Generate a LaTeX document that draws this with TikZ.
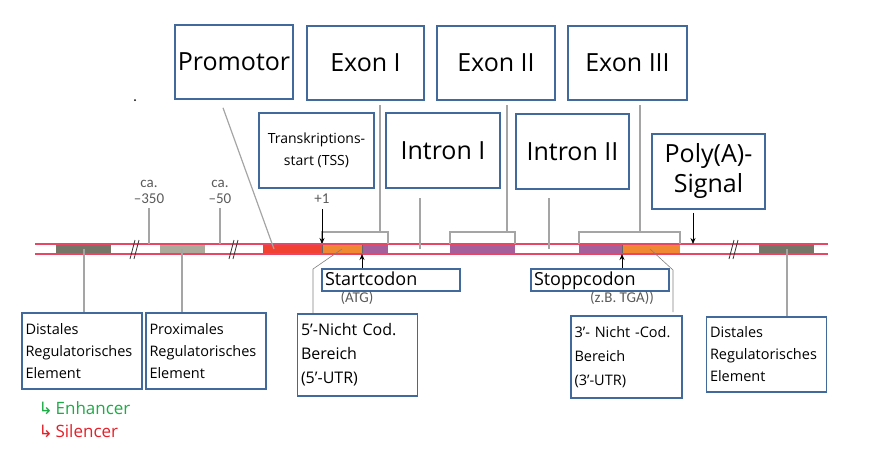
\documentclass[tikz,border=0pt]{standalone}
\usepackage{fontspec}
\setmainfont{Open Sans}
\newfontfamily\labelfont{Carlito}
\newfontfamily\symbolfont{DejaVu Sans}
\usetikzlibrary{arrows.meta}

\definecolor{strandred}{RGB}{232,70,100}
\definecolor{promred}{RGB}{240,65,50}
\definecolor{utrorange}{RGB}{240,135,50}
\definecolor{exonpurple}{RGB}{165,95,155}
\definecolor{distgray}{RGB}{118,118,104}
\definecolor{proxgray}{RGB}{172,170,154}
\definecolor{boxblue}{RGB}{65,105,155}
\definecolor{conngray}{RGB}{165,165,165}
\definecolor{labelgray}{RGB}{90,90,90}
\definecolor{enhgreen}{RGB}{30,170,70}
\definecolor{silred}{RGB}{230,30,40}

\tikzset{
  box/.style={draw=boxblue, line width=1.6pt, fill=white, inner sep=3pt},
  bigtext/.style={font=\fontsize{25}{30}\selectfont},
  midtext/.style={font=\fontsize{14}{22}\selectfont},
  lowtext/.style={font=\fontsize{14.5}{22}\selectfont, align=left, text width=113pt, inner sep=3.5pt},
  codontext/.style={font=\fontsize{18}{20}\selectfont, align=left, text width=132pt,
                    text height=12pt, text depth=2pt, inner xsep=3pt, inner ysep=4pt},
  graylabel/.style={font=\labelfont\fontsize{15}{16}\selectfont, text=labelgray, inner sep=1pt},
  strand/.style={draw=strandred, line width=1.2pt},
  conn/.style={draw=conngray, line width=1.2pt},
  utrline/.style={draw=gray, line width=0.6pt},
  arr/.style={-{Stealth[length=6pt,width=5pt]}, line width=0.8pt, black},
  breakmark/.style={draw=black!80, line width=0.8pt}
}

\begin{document}
\begin{tikzpicture}[x=1pt, y=-1pt]
    \useasboundingbox (0,0) rectangle (877,450);

    % draw the strand
    \fill[white] (35,244) rectangle (828,254);
    \fill[distgray] (56,244) rectangle (111,254);
    \fill[proxgray] (160,244) rectangle (205,254);
    \fill[promred] (263,244) rectangle (322,254);
    \fill[utrorange] (322,244) rectangle (362,254);
    \fill[exonpurple] (362,244) rectangle (388,254);
    \fill[exonpurple] (450,244) rectangle (515,254);
    \fill[exonpurple] (579,244) rectangle (622,254);
    \fill[utrorange] (622,244) rectangle (680,254);
    \fill[distgray] (759,244) rectangle (814,254);
    \draw[black!60, line width=0.4pt] (322,244) -- (322,254) (362,244) -- (362,254)
        (622,244) -- (622,254);
    \draw[strand] (35,244) -- (828,244);
    \draw[strand] (35,254) -- (828,254);

    % breaks
    \foreach \bx in {135,234,734} {
        \draw[breakmark] (\bx-5,259) -- (\bx,240);
        \draw[breakmark] (\bx-1,259) -- (\bx+4,240);
    }

    % sites on the strand
    \coordinate (tsssite) at (322,244);
    \coordinate (startsite) at (362,254);
    \coordinate (stopsite) at (622,254);
    \coordinate (polyasite) at (693,244);
    \coordinate (promsite) at (274,249);
    \coordinate (intronIsite) at (420,249);
    \coordinate (intronIIsite) at (549,249);
    \coordinate (distLsite) at (84,249);
    \coordinate (proxsite) at (182,249);
    \coordinate (distRsite) at (787,249);
    \coordinate (utrVsite) at (342,249);
    \coordinate (utrIIIsite) at (650,249);

    % exon brackets
    \draw[conn] (322,244) -- (322,232) -- (388,232) -- (388,244);
    \draw[conn] (450,244) -- (450,232) -- (515,232) -- (515,244);
    \draw[conn] (579,244) -- (579,232) -- (680,232) -- (680,244);
    \coordinate (exonIstem) at (380,232);
    \coordinate (exonIIstem) at (507,232);
    \coordinate (exonIIIstem) at (640,232);

    % upper boxes
    \node[box, bigtext, minimum width=118pt, minimum height=74pt] (promotor) at (234,62) {Promotor};
    \node[box, bigtext, minimum width=117pt, minimum height=74pt] (exonI) at (365.5,63) {Exon I};
    \node[box, bigtext, minimum width=118pt, minimum height=74pt] (exonII) at (496,63) {Exon II};
    \node[box, bigtext, minimum width=119pt, minimum height=74pt] (exonIII) at (627.5,63) {Exon III};
    \node[box, midtext, align=center, minimum width=115pt, minimum height=75pt] (tss) at (316.5,150.5) {Transkriptions-\\start (TSS)};
    \node[box, bigtext, minimum width=114pt, minimum height=75pt] (intronI) at (443,150.5) {Intron I};
    \node[box, bigtext, minimum width=113pt, minimum height=75pt] (intronII) at (572.5,151.5) {Intron II};
    \node[box, bigtext, align=center, minimum width=113pt, minimum height=75pt] (polya) at (708.5,171.5) {Poly(A)-\\Signal};

    % codon boxes
    \node[box, codontext] (startcodon) at (391,280) {Startcodon};
    \node[box, codontext] (stoppcodon) at (600,280) {Stoppcodon};

    % lower boxes
    \node[box, lowtext, minimum height=76pt] (distL) at (82,351) {Distales\\Regulatorisches\\Element};
    \node[box, lowtext, minimum height=76pt] (prox) at (206,351) {Proximales\\Regulatorisches\\Element};
    \node[box, lowtext, font=\fontsize{16}{24}\selectfont, minimum height=82pt] (utrV) at (357.5,355) {5'-Nicht Cod.\\Bereich\\(5'-UTR)};
    \node[box, lowtext, font=\fontsize{14.5}{24}\selectfont, text width=104pt, minimum height=82pt] (utrIII) at (626.5,357) {3'- Nicht -Cod.\\Bereich\\(3'-UTR)};
    \node[box, lowtext, minimum height=75pt] (distR) at (766.5,354.5) {Distales\\Regulatorisches\\Element};

    % small labels
    \node[graylabel, align=center] (caIII) at (149,192) {ca.\\–350};
    \node[graylabel, align=center] (caL) at (220,192) {ca.\\–50};
    \node[graylabel] (plusone) at (322,199) {+1};
    \node[graylabel] (atg) at (357,298) {(ATG)};
    \node[graylabel] (tga) at (622,298) {(z.B. TGA))};
    \fill (135,100) circle (1pt);

    % enhancer / silencer
    \node[anchor=west, text=enhgreen, font=\fontsize{17}{19}\selectfont] (enhancer) at (35,408) {{\symbolfont ↳}\,Enhancer};
    \node[anchor=west, text=silred, font=\fontsize{17}{19}\selectfont] (silencer) at (35,431) {{\symbolfont ↳}\,Silencer};

    % connectors up
    \draw[conn] (promsite) -- ([yshift=-8pt]promotor.south -| 223,0);
    \draw[conn] (exonIstem) -- ([yshift=-4pt]exonI.south -| exonIstem);
    \draw[conn] (exonIIstem) -- ([yshift=-4pt]exonII.south -| exonIIstem);
    \draw[conn] (exonIIIstem) -- ([yshift=-4pt]exonIII.south -| exonIIIstem);
    \draw[conn] (intronIsite) -- ([yshift=-9pt]intronI.south -| intronIsite);
    \draw[conn] (intronIIsite) -- ([yshift=-8pt]intronII.south -| intronIIsite);
    \draw[conn] (149,244) -- ([yshift=-3pt]caIII.south);
    \draw[conn] (220,244) -- ([yshift=-3pt]caL.south);

    % connectors down
    \draw[conn] (distLsite) -- (distL.north -| distLsite);
    \draw[conn] (proxsite) -- (prox.north -| proxsite);
    \draw[conn] (distRsite) -- (distR.north -| distRsite);
    \draw[utrline] (utrVsite) -- (313,269) -- (utrV.north -| 313,0);
    \draw[utrline] (utrIIIsite) -- (673,270) -- ([yshift=3pt]utrIII.north -| 673,0);

    % arrows
    \draw[arr] ([yshift=-4pt]plusone.south) -- (tsssite);
    \draw[arr] (startcodon.north -| startsite) -- (startsite);
    \draw[arr] (stoppcodon.north -| stopsite) -- (stopsite);
    \draw[arr] ([yshift=-3pt]polya.south -| polyasite) -- (polyasite);

\end{tikzpicture}
\end{document}
